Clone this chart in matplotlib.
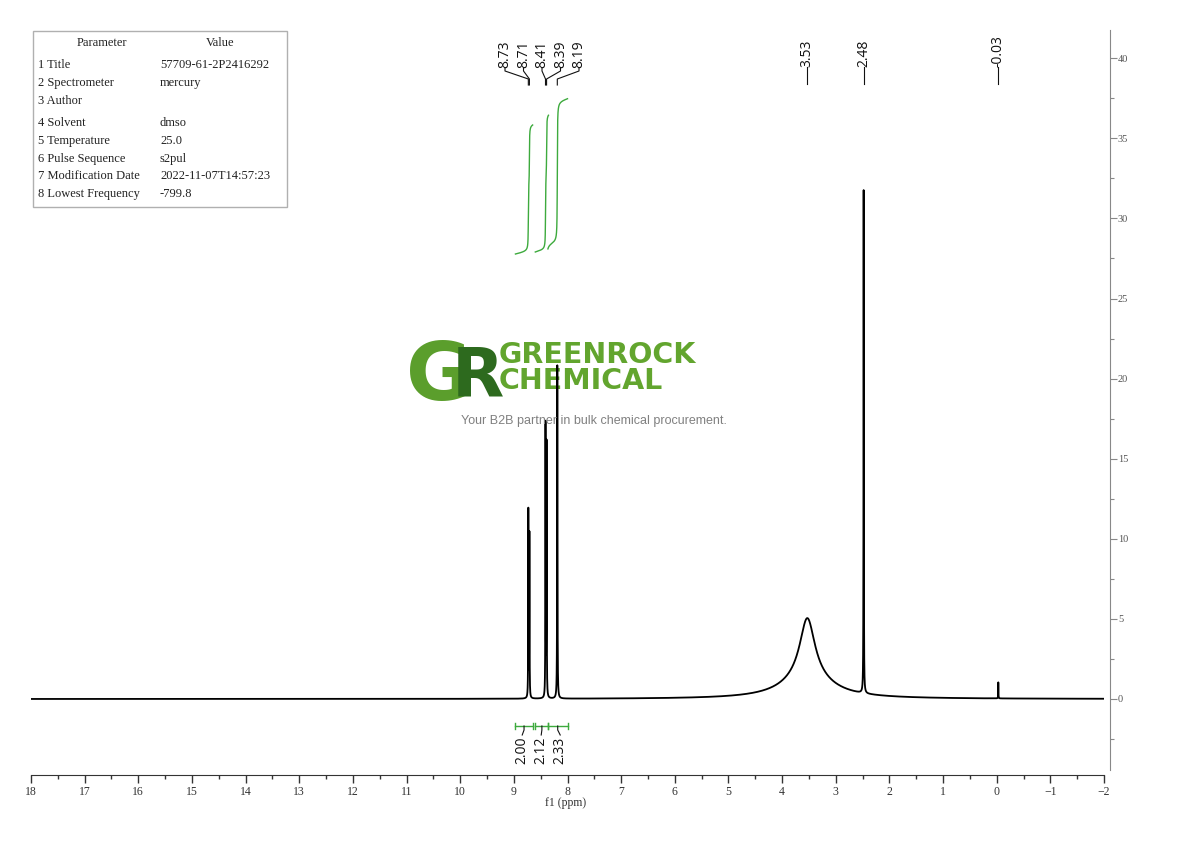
import numpy as np
import matplotlib
matplotlib.use('Agg')
import matplotlib.pyplot as plt
from matplotlib.ticker import MultipleLocator, FixedLocator
from matplotlib.patches import Rectangle

# ---------------- data ----------------
# the broad water signal at 3.53 is described by a core and a wide base component
peak_ppm = [8.73, 8.71, 8.41, 8.39, 8.19, 3.53, 3.53, 2.48, -0.03]
peak_height = [11.7, 10.2, 17.0, 15.8, 20.8, 3.8, 1.25, 31.4, 1.0]
peak_fwhm = [0.006, 0.006, 0.006, 0.006, 0.007, 0.34, 1.1, 0.006, 0.005]

multiplet_labels = [8.73, 8.71, 8.41, 8.39, 8.19]
single_labels = [3.53, 2.48, -0.03]

integ_ranges = [(8.97, 8.65), (8.60, 8.355), (8.365, 8.00)]
integ_values = [2.00, 2.12, 2.33]

x_ticks = list(range(18, -3, -1))
y_ticks = list(range(0, 41, 5))

param_names = ["1 Title", "2 Spectrometer", "3 Author", "4 Solvent", "5 Temperature",
               "6 Pulse Sequence", "7 Modification Date", "8 Lowest Frequency"]
param_values = ["57709-61-2P2416292", "mercury", "", "dmso", "25.0",
                "s2pul", "2022-11-07T14:57:23", "-799.8"]

# ---------------- layout helpers ----------------
W, H = 1190, 841
X_LEFT_PX, X_RIGHT_PX = 31, 1104
Y_TOP_PX, Y_BOT_PX = 30, 775
Y0_PX, PPU = 699.0, 16.02       # pixel of y=0, pixels per intensity unit
PPM_PX = (X_RIGHT_PX - X_LEFT_PX) / 20.0


def yd(ypx):
    return (Y0_PX - ypx) / PPU


def fx(xpx):
    return xpx / W


def fy(ypx):
    return 1 - ypx / H


def px2ppm(xpx):
    return 18 - (xpx - X_LEFT_PX) / PPM_PX


GREEN = '#3daa3d'
SERIF = ['Liberation Serif', 'DejaVu Serif']
SANS = ['Open Sans', 'DejaVu Sans']

fig = plt.figure(figsize=(W / 100, H / 100), dpi=100)
ax = fig.add_axes([fx(X_LEFT_PX), fy(Y_BOT_PX), (X_RIGHT_PX - X_LEFT_PX) / W,
                   (Y_BOT_PX - Y_TOP_PX) / H])

# ---------------- spectrum ----------------
x = np.linspace(18, -2, 40001)
y = np.zeros_like(x)
for p, h, w in zip(peak_ppm, peak_height, peak_fwhm):
    y += h / (1 + ((x - p) / (w / 2)) ** 2)
ax.plot(x, y, color='black', lw=1.3, zorder=3)

ax.set_xlim(18, -2)
ax.set_ylim(yd(Y_BOT_PX), yd(Y_TOP_PX))

# ---------------- axes styling ----------------
for s in ['top', 'left']:
    ax.spines[s].set_visible(False)
ax.spines['bottom'].set_color('#333333')
ax.spines['right'].set_color('#888888')
ax.spines['right'].set_position(('outward', 4))
ax.spines['right'].set_bounds(yd(770), yd(Y_TOP_PX))
ax.yaxis.tick_right()
ax.xaxis.set_major_locator(FixedLocator(x_ticks))
ax.xaxis.set_minor_locator(MultipleLocator(0.5))
ax.yaxis.set_major_locator(FixedLocator(y_ticks))
ax.yaxis.set_minor_locator(FixedLocator([v - 2.5 for v in y_ticks]))
ax.tick_params(axis='x', which='major', direction='out', length=6, width=1,
               colors='#333333', labelsize=8.5, pad=2)
ax.tick_params(axis='x', which='minor', direction='out', length=3, width=1, colors='#333333')
ax.tick_params(axis='y', which='major', direction='out', length=5, width=0.8,
               colors='#888888', labelcolor='#555555', labelsize=7.5, pad=1)
ax.tick_params(axis='y', which='minor', direction='out', length=3, width=0.8, colors='#888888')
for lab in ax.get_xticklabels() + ax.get_yticklabels():
    lab.set_family(SERIF)
fig.text(fx(566), fy(803), 'f1 (ppm)', ha='center', va='center', fontsize=8.5,
         family=SERIF, color='#333333')

# ---------------- peak labels ----------------
spacing = 18.5 / PPM_PX
center = np.mean([px2ppm(505), px2ppm(579)])
n = len(multiplet_labels)
for i, p in enumerate(multiplet_labels):
    lx = center + ((n - 1) / 2 - i) * spacing
    ax.text(lx, yd(68), f"{p:.2f}", rotation=90, ha='center', va='bottom',
            fontsize=10, family=SANS, color='#111111')
    ax.plot([lx, lx, p, p], [yd(68), yd(71), yd(79), yd(85)], color='#111111', lw=0.8)
for p in single_labels:
    ax.text(p, yd(67), f"{p:.2f}", rotation=90, ha='center', va='bottom',
            fontsize=10, family=SANS, color='#111111')
    ax.plot([p, p], [yd(67), yd(84)], color='#111111', lw=0.8)

# ---------------- integrals ----------------
curve_base_px = [254, 252, 249]
iscale = 64.5 / PPU
yb = yd(726)
rc = [(a + b) / 2 for a, b in integ_ranges]
icenter = np.mean(rc)
ispacing = 19 / PPM_PX
for i, ((hi, lo), val) in enumerate(zip(integ_ranges, integ_values)):
    m = (x <= hi) & (x >= lo)
    cs = np.cumsum(y[m])
    cs = cs / cs[-1]
    ax.plot(x[m], yd(curve_base_px[i]) + cs * val * iscale, color=GREEN, lw=1.0)
    ax.plot([hi, lo], [yb, yb], color=GREEN, lw=1.0)
    for e in (hi, lo):
        ax.plot([e, e], [yd(723), yd(729)], color=GREEN, lw=1.0)
    lx = icenter + (1 - i) * ispacing
    c = rc[i]
    ax.plot([c, c, lx], [yb, yd(730), yd(735)], color='#111111', lw=0.8)
    ax.text(lx, yd(737), f"{val:.2f}", rotation=90, ha='center', va='top',
            fontsize=10, family=SANS, color='#111111')

# ---------------- watermark logo ----------------
tf = fig.transFigure
ax.text(fx(439), fy(400), 'G', transform=tf, ha='center', va='baseline', fontsize=58,
        fontweight='bold', color='#5b9e2c', zorder=1, family='DejaVu Sans')
ax.text(fx(478), fy(396), 'R', transform=tf, ha='center', va='baseline', fontsize=49,
        fontweight='bold', color='#2d6a1e', zorder=1.1, family='DejaVu Sans')
ax.text(fx(499), fy(341), 'GREENROCK\nCHEMICAL', transform=tf, ha='left', va='top',
        fontsize=20.5, linespacing=0.92, fontweight='bold', color='#62a52e', zorder=1,
        family='DejaVu Sans')
ax.text(fx(594), fy(421), 'Your B2B partner in bulk chemical procurement.', transform=tf,
        ha='center', va='center', fontsize=9, color='#808080', zorder=4,
        family=['Liberation Sans', 'DejaVu Sans'])

# ---------------- parameter table ----------------
fig.patches.append(Rectangle((fx(33), fy(207)), (287 - 33) / W, (207 - 31) / H,
                             transform=tf, fill=False, edgecolor='#b0b0b0', lw=1))
fig.text(fx(102), fy(43), 'Parameter', ha='center', va='center', fontsize=9,
         family=SERIF, color='#222222')
fig.text(fx(220), fy(43), 'Value', ha='center', va='center', fontsize=9,
         family=SERIF, color='#222222')
row_px = [65, 83, 101, 123, 141, 159, 176, 194]
for ypx, nme, val in zip(row_px, param_names, param_values):
    fig.text(fx(38), fy(ypx), nme, ha='left', va='center', fontsize=9,
             family=SERIF, color='#222222')
    fig.text(fx(160), fy(ypx), val, ha='left', va='center', fontsize=9,
             family=SERIF, color='#222222')

fig.savefig('out.png', dpi=100)
